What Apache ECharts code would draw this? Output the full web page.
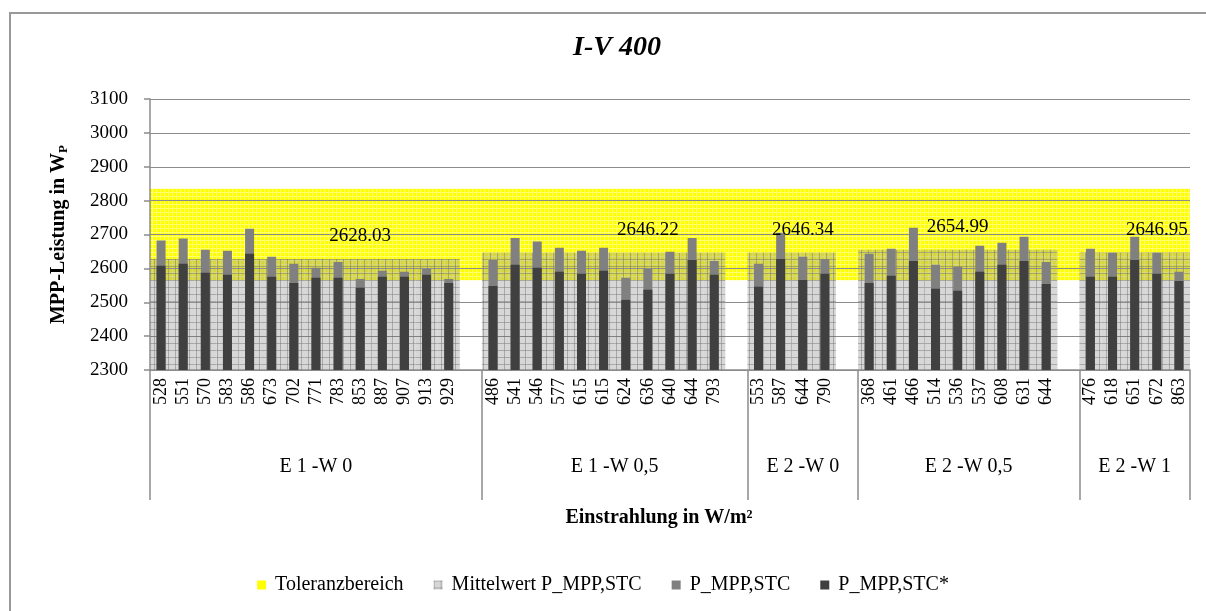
<!DOCTYPE html>
<html><head><meta charset="utf-8">
<script src="https://cdn.jsdelivr.net/npm/echarts@6/dist/echarts.min.js"></script>
<style>html,body{margin:0;padding:0;background:#fff}#c{width:1206px;height:611px}</style>
</head><body><div id="c"></div>
<script>
const groupNames = ['E 1 -W 0', 'E 1 -W 0,5', 'E 2 -W 0', 'E 2 -W 0,5', 'E 2 -W 1'];
const irradiance = [
  [528, 551, 570, 583, 586, 673, 702, 771, 783, 853, 887, 907, 913, 929],
  [486, 541, 546, 577, 615, 615, 624, 636, 640, 644, 793],
  [553, 587, 644, 790],
  [368, 461, 466, 514, 536, 537, 608, 631, 644],
  [476, 618, 651, 672, 863]
];
const pStc = [
  [2682, 2688, 2655, 2652, 2717, 2634, 2614, 2602, 2619, 2569, 2593, 2590, 2599, 2569],
  [2625, 2690, 2679, 2661, 2652, 2661, 2572, 2599, 2649, 2690, 2622],
  [2614, 2705, 2634, 2628],
  [2643, 2658, 2720, 2611, 2605, 2667, 2676, 2693, 2619],
  [2658, 2646, 2693, 2646, 2590]
];
const pStcStar = [
  [2608, 2614, 2587, 2581, 2643, 2575, 2557, 2572, 2572, 2543, 2575, 2575, 2581, 2557],
  [2548, 2611, 2602, 2590, 2584, 2593, 2507, 2537, 2584, 2625, 2581],
  [2546, 2628, 2566, 2584],
  [2557, 2578, 2622, 2540, 2534, 2590, 2611, 2622, 2554],
  [2575, 2575, 2625, 2584, 2563]
];
const meanValues = [2628.03, 2646.22, 2646.34, 2654.99, 2646.95];
const meanLabelIndex = [9, 7, 2, 4, 3];
const toleranceRange = [2565, 2835];
const yTicks = { min: 2300, max: 3100, interval: 100 };

// build flat arrays (empty slot after each group except the last)
const cats = [], dStc = [], dStar = [], dMean = [], boundaries = [0], centers = [];
groupNames.forEach((g, gi) => {
  const start = cats.length;
  irradiance[gi].forEach((v, i) => {
    cats.push(String(v));
    dStc.push(pStc[gi][i]);
    dStar.push(pStcStar[gi][i]);
    dMean.push(i === meanLabelIndex[gi] ? { value: meanValues[gi], label: { show: true } } : meanValues[gi]);
  });
  if (gi < groupNames.length - 1) { cats.push(''); dStc.push(null); dStar.push(null); dMean.push(null); }
  boundaries.push(cats.length);
  centers.push((start + cats.length) / 2);
});

function pattern(bg, line, size) {
  const c = document.createElement('canvas');
  c.width = c.height = size;
  const ctx = c.getContext('2d');
  ctx.fillStyle = bg; ctx.fillRect(0, 0, size, size);
  ctx.fillStyle = line; ctx.fillRect(0, 0, size, 1); ctx.fillRect(0, 0, 1, size);
  return { image: c, repeat: 'repeat' };
}
const yellowFill = pattern('#ffff00', '#ffff70', 4);
const grayFill = pattern('rgba(150,150,150,0.38)', 'rgba(110,110,110,0.45)', 7);

const FONT = '"Liberation Serif", "DejaVu Serif", serif';
const axisGray = '#8c8c8c';

const chart = echarts.init(document.getElementById('c'), null, { renderer: 'canvas' });
chart.setOption({
  animation: false,
  textStyle: { fontFamily: FONT, color: '#000' },
  graphic: [
    { type: 'rect', shape: { x: 10, y: 13, width: 1230, height: 640 }, style: { fill: 'none', stroke: '#999', lineWidth: 2 }, z: -10 },
    { type: 'text', x: 617, y: 48, style: { text: 'I-V 400', font: 'italic bold 28px "Liberation Serif"', fill: '#000', textAlign: 'center', textVerticalAlign: 'middle' } }
  ],
  legend: {
    top: 570, left: 'center', icon: 'rect', itemWidth: 9, itemHeight: 9, itemGap: 30,
    textStyle: { fontFamily: FONT, fontSize: 20, color: '#000', padding: [0, 0, 0, 4] },
    data: ['Toleranzbereich', 'Mittelwert P_MPP,STC', 'P_MPP,STC', 'P_MPP,STC*']
  },
  grid: { left: 150, right: 16, top: 99, bottom: 241 },
  xAxis: [
    {
      type: 'category', data: cats, position: 'bottom',
      axisLine: { lineStyle: { color: axisGray, width: 1.5 } },
      axisTick: { interval: 0, length: 70, lineStyle: { color: axisGray, width: 1.5 } },
      axisLabel: { interval: 0, rotate: 90, margin: 8, fontSize: 18, fontFamily: FONT, color: '#000' }
    },
    {
      type: 'value', min: 0, max: cats.length, position: 'bottom',
      axisLine: { show: false }, splitLine: { show: false },
      axisTick: { show: true, customValues: boundaries, length: 130, lineStyle: { color: axisGray, width: 1.5 } },
      axisLabel: {
        customValues: centers, margin: 87, fontSize: 20, fontFamily: FONT, color: '#000',
        formatter: v => { const i = centers.indexOf(v); return i >= 0 ? groupNames[i] : ''; }
      },
      name: 'Einstrahlung in W/m²', nameLocation: 'middle', nameGap: 138,
      nameTextStyle: { fontFamily: FONT, fontSize: 20, fontWeight: 'bold', color: '#000', padding: [0, 22, 0, 0] }
    },
    { type: 'category', data: cats, show: false }
  ],
  yAxis: {
    type: 'value', min: yTicks.min, max: yTicks.max, interval: yTicks.interval, z: 1.5,
    axisLine: { show: true, lineStyle: { color: axisGray, width: 1.5 } },
    axisTick: { show: true, length: 6, lineStyle: { color: axisGray, width: 1.5 } },
    axisLabel: { fontSize: 19, fontFamily: FONT, color: '#000', margin: 22, formatter: v => String(v) },
    splitLine: { lineStyle: { color: axisGray, width: 1 } },
    name: '{a|MPP-Leistung in W}{s|P}', nameLocation: 'middle', nameGap: 80,
    nameTextStyle: {
      rich: {
        a: { fontFamily: FONT, fontSize: 20, fontWeight: 'bold', color: '#000' },
        s: { fontFamily: FONT, fontSize: 13, fontWeight: 'bold', color: '#000', padding: [10, 0, 0, 0] }
      }
    }
  },
  series: [
    {
      name: 'Toleranzbereich', type: 'line', data: [], color: '#ffff00', xAxisIndex: 0,
      markArea: { silent: true, z: 1, itemStyle: { color: yellowFill }, data: [[{ yAxis: toleranceRange[0] }, { yAxis: toleranceRange[1] }]] }
    },
    {
      name: 'Mittelwert P_MPP,STC', type: 'bar', xAxisIndex: 2, data: dMean, barWidth: '100%',
      itemStyle: { color: grayFill }, color: '#d4d4d4',
      label: { show: false, position: 'top', distance: 13, fontSize: 19, fontFamily: FONT, color: '#000', formatter: p => p.value.toFixed(2) }
    },
    { name: 'P_MPP,STC', type: 'bar', xAxisIndex: 0, data: dStc, barWidth: 9, barGap: '-100%', itemStyle: { color: '#808080' } },
    { name: 'P_MPP,STC*', type: 'bar', xAxisIndex: 0, data: dStar, barWidth: 9, barGap: '-100%', itemStyle: { color: '#404040' } }
  ]
});
</script></body></html>
